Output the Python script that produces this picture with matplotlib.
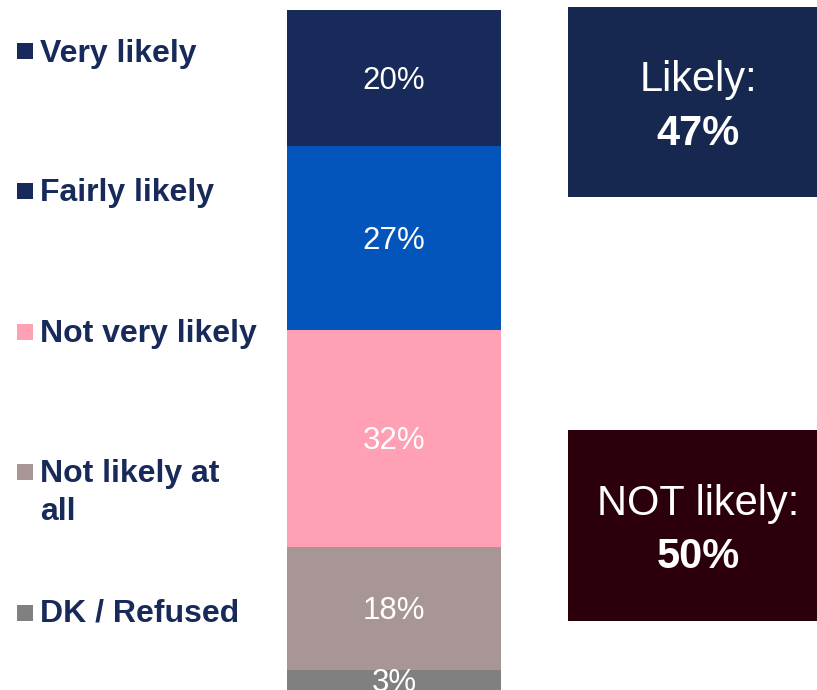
import matplotlib
matplotlib.use("Agg")
import matplotlib.pyplot as plt
from matplotlib.patches import Rectangle
from matplotlib.transforms import offset_copy

plt.rcParams['font.family'] = ['Liberation Sans', 'DejaVu Sans']

# Survey response shares (percent), top to bottom of the stacked bar
categories = ["Very likely", "Fairly likely", "Not very likely", "Not likely at all", "DK / Refused"]
values = [20, 27, 32, 18, 3]
colors = ["#172a59", "#0455bb", "#ffa0b4", "#a89595", "#808080"]
legend_colors = ["#172a59", "#172a59", "#ffa0b4", "#a89595", "#808080"]
legend_lines = [["Very likely"], ["Fairly likely"], ["Not very likely"],
                ["Not likely at", "all"], ["DK / Refused"]]

# Summary groupings
likely_total = values[0] + values[1]
not_likely_total = values[2] + values[3]

W, H = 817, 690
fig = plt.figure(figsize=(W / 100, H / 100), dpi=100)

navy = "#172a59"

# Stacked bar axes
ax = fig.add_axes([287 / W, 0, (501 - 287) / W, (H - 10) / H])
label_tr = offset_copy(ax.transData, fig=fig, x=0, y=-3, units='dots')
bottom = 0
for cat, v, c in zip(categories, values, colors):
    ax.bar(0, v, bottom=bottom, width=1.0, color=c, edgecolor='none')
    ax.text(0, bottom + v / 2, f"{v}%", ha='center', va='center',
            color='white', fontsize=22.5, clip_on=False, transform=label_tr)
    bottom += v
ax.set_xlim(-0.5, 0.5)
ax.set_ylim(100, 0)
ax.axis('off')

# Overlay in pixel coordinates for legend and summary boxes
ov = fig.add_axes([0, 0, 1, 1], zorder=-1)
ov.set_xlim(0, W)
ov.set_ylim(H, 0)
ov.axis('off')

marker_tops = [43, 183, 324, 464, 605]
baselines = [62, 201, 342, 482, 622]
line_step = 38
for lines, c, mt, bl in zip(legend_lines, legend_colors, marker_tops, baselines):
    ov.add_patch(Rectangle((17, mt), 16, 16, color=c, lw=0))
    for i, line in enumerate(lines):
        ov.text(40, bl + i * line_step, line, ha='left', va='baseline', fontsize=23,
                fontweight='bold', color=navy)

# Summary boxes
boxes = [
    (7, 197, "#16284f", "Likely:", likely_total),
    (430, 621, "#2b000b", "NOT likely:", not_likely_total),
]
for top, bot, col, title, total in boxes:
    ov.add_patch(Rectangle((568, top), W - 568, bot - top, color=col, lw=0))
    cy = (top + bot) / 2
    ov.text(698, cy - 22, title, ha='center', va='center', fontsize=30, color='white')
    ov.text(698, cy + 32, f"{total}%", ha='center', va='center', fontsize=30,
            fontweight='bold', color='white')

fig.savefig("out.png", dpi=100)
